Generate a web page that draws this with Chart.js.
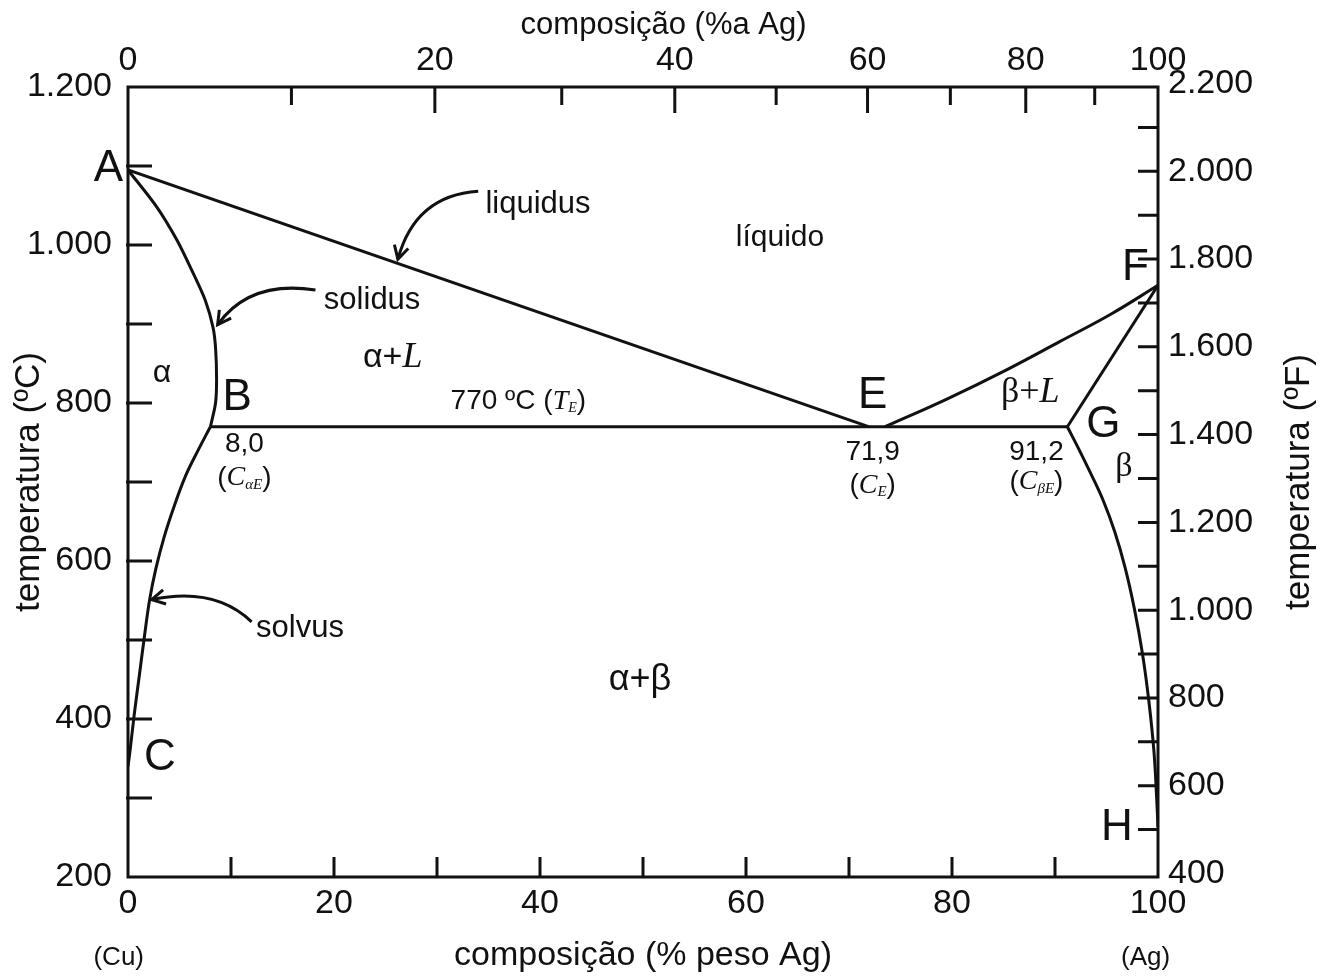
<!DOCTYPE html>
<html>
<head>
<meta charset="utf-8">
<script src="https://cdn.jsdelivr.net/npm/chart.js@4.4.1/dist/chart.umd.min.js"></script>
<style>
  html, body { margin: 0; padding: 0; background: #fff; }
  #wrap { width: 1321px; height: 978px; }
</style>
</head>
<body>
<div id="wrap"><canvas id="phaseChart"></canvas></div>
<script>
// Cu-Ag phase diagram: composition in wt% Ag, temperature in ºC
const liquidusAE = [[0, 1095], [71.9, 770]];
const liquidusEF = [[73.5, 770], [79.5, 805], [85.3, 842], [90.5, 878], [95.5, 913], [100, 949]];
const solidusAB = [[0, 1095], [2.8, 1048], [4.76, 1006], [6.3, 965], [7.5, 930], [8.25, 896], [8.5, 870], [8.6, 830], [8.5, 800], [8.0, 770]];
const solidusFG = [[100, 949], [91.2, 770]];
const eutectic = [[8.0, 770], [91.2, 770]];
const solvusBC = [[8.0, 770], [6.8, 740], [5.6, 708], [4.5, 670], [3.5, 630], [2.7, 590], [2.1, 551], [1.6, 505], [1.1, 455], [0.6, 405], [0.2, 360], [0, 340]];
const solvusGH = [[91.2, 770], [92.3, 742], [93.5, 710], [94.7, 676], [95.8, 637], [96.8, 592], [97.7, 540], [98.5, 482], [99.1, 424], [99.6, 360], [99.85, 305], [100, 263]];

const tempTicksC = [200, 400, 600, 800, 1000, 1200];
const tempTicksF = [400, 600, 800, 1000, 1200, 1400, 1600, 1800, 2000, 2200];
const wtTicks = [0, 20, 40, 60, 80, 100];
const atTicks = [0, 10, 20, 30, 40, 50, 60, 70, 80, 90, 100];

const sans = '"Liberation Sans", Arial, sans-serif';
const serif = '"Liberation Serif", "Times New Roman", serif';

const M_AG = 107.87, M_CU = 63.55;
function wtFromAt(a) {
  return 100 * a * M_AG / (a * M_AG + (100 - a) * M_CU);
}
function toF(c) { return c * 1.8 + 32; }
function fmt(v) { return String(v).replace(/\B(?=(\d{3})+(?!\d))/g, '.'); }
function pts(arr) { return arr.map(p => ({ x: p[0], y: p[1] })); }

// annotations placed in data units (wt% Ag, ºC)
// each run: text, size, family, baseline shift, style
const letters = [
  ['A', -1.9, 1097], ['B', 10.6, 806], ['C', 3.1, 351], ['E', 72.3, 809],
  ['F', 97.8, 971], ['G', 94.7, 772], ['H', 96.0, 262]
];
const phaseLabels = [
  { w: 3.3, t: 838, runs: [['α', 32, sans, 0, '']] },
  { w: 25.7, t: 857, runs: [['α+', 34, sans, 0, ''], ['L', 36, serif, 0, 'italic']] },
  { w: 63.3, t: 1009, runs: [['líquido', 30, sans, 0, '']] },
  { w: 87.6, t: 813, runs: [['β+', 36, serif, 0, ''], ['L', 36, serif, 0, 'italic']] },
  { w: 96.7, t: 719, runs: [['β', 34, serif, 0, '']] },
  { w: 49.7, t: 449, runs: [['α+β', 36, sans, 0, '']] },
  { w: 37.9, t: 802, runs: [['770 ºC (', 28, sans, 0, ''], ['T', 28, serif, 0, 'italic'], ['E', 14, serif, 7, 'italic'], [')', 28, sans, 0, '']] },
  { w: 11.3, t: 748, runs: [['8,0', 28, sans, 0, '']] },
  { w: 11.3, t: 705, runs: [['(', 28, sans, 0, ''], ['C', 28, serif, 0, 'italic'], ['αE', 15, serif, 7, 'italic'], [')', 28, sans, 0, '']] },
  { w: 72.3, t: 737, runs: [['71,9', 28, sans, 0, '']] },
  { w: 72.3, t: 696, runs: [['(', 28, sans, 0, ''], ['C', 28, serif, 0, 'italic'], ['E', 15, serif, 7, 'italic'], [')', 28, sans, 0, '']] },
  { w: 88.2, t: 738, runs: [['91,2', 28, sans, 0, '']] },
  { w: 88.2, t: 700, runs: [['(', 28, sans, 0, ''], ['C', 28, serif, 0, 'italic'], ['βE', 15, serif, 7, 'italic'], [')', 28, sans, 0, '']] },
  { w: 39.8, t: 1051, runs: [['liquidus', 31, sans, 0, '']] },
  { w: 23.7, t: 930, runs: [['solidus', 31, sans, 0, '']] },
  { w: 16.7, t: 515, runs: [['solvus', 31, sans, 0, '']] }
];
// curved pointer arrows: start, control, tip
const arrows = [
  [[34.0, 1068], [27.9, 1063], [26.2, 982]],
  [[18.2, 943], [11.8, 956], [8.7, 899]],
  [[12.0, 523], [8.4, 568], [2.3, 551]]
];

function runFont(r) { return (r[4] ? r[4] + ' ' : '') + r[1] + 'px ' + r[2]; }

function drawRuns(ctx, runs, x, y) {
  let total = 0;
  runs.forEach(r => { ctx.font = runFont(r); total += ctx.measureText(r[0]).width; });
  let cx = x - total / 2;
  ctx.textAlign = 'left';
  ctx.textBaseline = 'middle';
  runs.forEach(r => {
    ctx.font = runFont(r);
    ctx.fillText(r[0], cx, y + r[3]);
    cx += ctx.measureText(r[0]).width;
  });
}

const decorations = {
  id: 'decorations',
  afterDatasetsDraw(chart) {
    const ctx = chart.ctx;
    const a = chart.chartArea;
    const x = chart.scales.x, y = chart.scales.y, yF = chart.scales.yF;
    ctx.save();
    ctx.strokeStyle = '#111';
    ctx.fillStyle = '#111';
    ctx.lineCap = 'butt';

    // inward tick marks
    ctx.lineWidth = 3;
    ctx.beginPath();
    for (let w = 10; w < 100; w += 10) {
      const px = x.getPixelForValue(w);
      ctx.moveTo(px, a.bottom); ctx.lineTo(px, a.bottom - 20);
    }
    atTicks.slice(1, -1).forEach(at => {
      const px = x.getPixelForValue(wtFromAt(at));
      ctx.moveTo(px, a.top); ctx.lineTo(px, a.top + (at % 20 === 0 ? 26 : 18));
    });
    for (let c = 300; c < 1200; c += 100) {
      const py = y.getPixelForValue(c);
      ctx.moveTo(a.left - 2, py); ctx.lineTo(a.left + 24, py);
    }
    for (let f = 500; f < 2200; f += 100) {
      const py = yF.getPixelForValue(f);
      ctx.moveTo(a.right + 1, py); ctx.lineTo(a.right - 20, py);
    }
    ctx.stroke();

    // frame
    ctx.lineWidth = 3;
    ctx.strokeRect(a.left, a.top, a.right - a.left, a.bottom - a.top);

    // pointer arrows
    ctx.lineWidth = 3;
    arrows.forEach(ar => {
      const p = ar.map(q => [x.getPixelForValue(q[0]), y.getPixelForValue(q[1])]);
      ctx.beginPath();
      ctx.moveTo(p[0][0], p[0][1]);
      ctx.quadraticCurveTo(p[1][0], p[1][1], p[2][0], p[2][1]);
      ctx.stroke();
      const ang = Math.atan2(p[2][1] - p[1][1], p[2][0] - p[1][0]);
      ctx.beginPath();
      ctx.moveTo(p[2][0] - 15 * Math.cos(ang - 0.5), p[2][1] - 15 * Math.sin(ang - 0.5));
      ctx.lineTo(p[2][0], p[2][1]);
      ctx.lineTo(p[2][0] - 15 * Math.cos(ang + 0.5), p[2][1] - 15 * Math.sin(ang + 0.5));
      ctx.stroke();
    });

    // point letters
    ctx.textAlign = 'center';
    ctx.textBaseline = 'middle';
    ctx.font = '44px ' + sans;
    letters.forEach(l => ctx.fillText(l[0], x.getPixelForValue(l[1]), y.getPixelForValue(l[2])));

    // phase fields and compositions
    phaseLabels.forEach(l => drawRuns(ctx, l.runs, x.getPixelForValue(l.w), y.getPixelForValue(l.t)));

    // pure components under the axis ends
    ctx.font = '26px ' + sans;
    ctx.textAlign = 'center';
    ctx.fillText('(Cu)', x.getPixelForValue(-0.9), chart.height - 20);
    ctx.fillText('(Ag)', x.getPixelForValue(98.8), chart.height - 20);

    // top axis title
    ctx.font = '31px ' + sans;
    ctx.fillText('composição (%a Ag)', x.getPixelForValue(52), 25);

    // right axis title, reading upward
    ctx.translate(chart.width - 22, (a.top + a.bottom) / 2);
    ctx.rotate(-Math.PI / 2);
    ctx.font = '35px ' + sans;
    ctx.fillText('temperatura (ºF)', 0, 0);
    ctx.restore();
  }
};

const line = (data, tension) => ({
  data: pts(data),
  showLine: true,
  borderColor: '#111',
  borderWidth: 3,
  pointRadius: 0,
  tension: tension,
  fill: false
});

const tickFont = { family: sans, size: 34 };

new Chart(document.getElementById('phaseChart'), {
  type: 'scatter',
  data: {
    datasets: [
      line(liquidusAE, 0),
      line(liquidusEF, 0.4),
      line(solidusAB, 0.3),
      line(solidusFG, 0),
      line(eutectic, 0),
      line(solvusBC, 0.4),
      line(solvusGH, 0.4)
    ]
  },
  options: {
    responsive: true,
    maintainAspectRatio: false,
    animation: false,
    layout: { padding: 0 },
    plugins: { legend: { display: false }, tooltip: { enabled: false } },
    scales: {
      x: {
        type: 'linear', position: 'bottom', min: 0, max: 100,
        afterBuildTicks: s => { s.ticks = wtTicks.map(v => ({ value: v })); },
        afterFit: s => { s.height = 101; },
        grid: { display: false, drawTicks: false },
        border: { display: false },
        ticks: { autoSkip: false, maxRotation: 0, padding: 6, color: '#111', font: tickFont },
        title: { display: true, text: 'composição (% peso Ag)', color: '#111', font: { family: sans, size: 34 }, padding: { top: 0, bottom: 2 } }
      },
      xTop: {
        type: 'linear', position: 'top', min: 0, max: 100,
        afterBuildTicks: s => { s.ticks = atTicks.filter(v => v % 20 === 0).map(v => ({ value: wtFromAt(v) })); },
        afterFit: s => { s.height = 87; },
        grid: { display: false, drawTicks: false },
        border: { display: false },
        ticks: {
          autoSkip: false, maxRotation: 0, padding: 6, color: '#111', font: tickFont,
          callback: (v, i) => String(atTicks.filter(t => t % 20 === 0)[i])
        }
      },
      y: {
        type: 'linear', position: 'left', min: 200, max: 1200,
        afterBuildTicks: s => { s.ticks = tempTicksC.map(v => ({ value: v })); },
        afterFit: s => { s.width = 128; },
        grid: { display: false, drawTicks: false },
        border: { display: false },
        ticks: { autoSkip: false, padding: 16, color: '#111', font: tickFont, callback: v => fmt(v) },
        title: { display: true, text: 'temperatura (ºC)', color: '#111', font: { family: sans, size: 35 }, padding: { top: 8, bottom: 0 } }
      },
      yF: {
        type: 'linear', position: 'right', min: toF(200), max: toF(1200),
        afterBuildTicks: s => { s.ticks = tempTicksF.map(v => ({ value: v })); },
        afterFit: s => { s.width = 163; },
        grid: { display: false, drawTicks: false },
        border: { display: false },
        ticks: { autoSkip: false, padding: 10, color: '#111', font: tickFont, callback: v => fmt(v) }
      }
    }
  },
  plugins: [decorations]
});
</script>
</body>
</html>
